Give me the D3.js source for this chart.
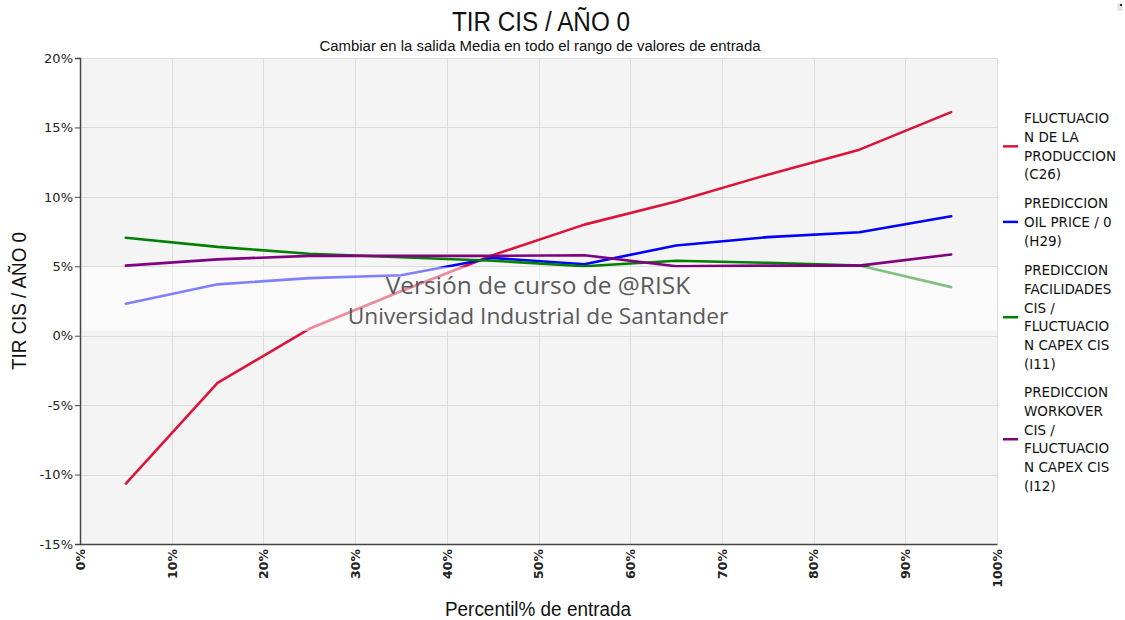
<!DOCTYPE html>
<html>
<head>
<meta charset="utf-8">
<script src="https://cdn.jsdelivr.net/npm/d3@7"></script>
<style>
  html, body { margin: 0; padding: 0; background: #fff; }
  svg { display: block; }
</style>
</head>
<body>
<svg id="chart" width="1125" height="620"></svg>
<script>
// Input percentiles (x) at which the mean output was evaluated
const percentiles = [5, 15, 25, 35, 45, 55, 65, 75, 85, 95];

// Mean TIR CIS / AÑO 0 (%) for each input, across its range
const produccion = [-10.65, -3.4, 0.5, 3.2, 5.8, 8.0, 9.66, 11.6, 13.4, 16.1];
const oilPrice   = [2.3, 3.7, 4.15, 4.35, 5.6, 5.15, 6.5, 7.1, 7.45, 8.6];
const facilidades = [7.05, 6.4, 5.9, 5.65, 5.4, 5.0, 5.4, 5.25, 5.05, 3.5];
const workover   = [5.05, 5.5, 5.75, 5.75, 5.75, 5.8, 5.0, 5.05, 5.05, 5.85];

const seriesNames = [
  ["FLUCTUACIO", "N DE LA", "PRODUCCION", "(C26)"],
  ["PREDICCION", "OIL PRICE / 0", "(H29)"],
  ["PREDICCION", "FACILIDADES", "CIS /", "FLUCTUACIO", "N CAPEX CIS", "(I11)"],
  ["PREDICCION", "WORKOVER", "CIS /", "FLUCTUACIO", "N CAPEX CIS", "(I12)"]
];
const seriesColors = ["#dc143c", "#0000ff", "#008000", "#800080"];
const seriesValues = [produccion, oilPrice, facilidades, workover];

const xTicks = [0, 10, 20, 30, 40, 50, 60, 70, 80, 90, 100];
const yTicks = [-15, -10, -5, 0, 5, 10, 15, 20];

const svg = d3.select("#chart");
const plot = { left: 80, right: 997, top: 58, bottom: 544 };

const x = d3.scaleLinear().domain([0, 100]).range([plot.left, plot.right]);
const y = d3.scaleLinear().domain([-15, 20]).range([plot.bottom, plot.top]);

const tickFont = "'DejaVu Sans', Verdana, sans-serif";
const narrowFont = "'Liberation Sans Narrow', 'Arial Narrow', 'Liberation Sans', sans-serif";

// Plot background
svg.append("rect")
  .attr("x", plot.left).attr("y", plot.top)
  .attr("width", plot.right - plot.left).attr("height", plot.bottom - plot.top)
  .attr("fill", "#f4f4f4");

// Grid
const grid = svg.append("g").attr("stroke", "#dcdcdc").attr("stroke-width", 1);
grid.selectAll("line.v").data(xTicks.slice(1)).join("line")
  .attr("x1", d => Math.round(x(d)) + 0.5).attr("x2", d => Math.round(x(d)) + 0.5)
  .attr("y1", plot.top).attr("y2", plot.bottom);
grid.selectAll("line.h").data(yTicks.slice(1)).join("line")
  .attr("y1", d => Math.round(y(d)) + 0.5).attr("y2", d => Math.round(y(d)) + 0.5)
  .attr("x1", plot.left).attr("x2", plot.right);

// Series lines
const line = d3.line()
  .x((d, i) => x(percentiles[i]))
  .y(d => y(d));

const linesG = svg.append("g").attr("fill", "none").attr("stroke-width", 2.6)
  .attr("stroke-linejoin", "round").attr("stroke-linecap", "round");
seriesValues.forEach((vals, i) => {
  linesG.append("path").datum(vals)
    .attr("d", line)
    .attr("stroke", seriesColors[i]);
});

// Watermark band and text
svg.append("rect")
  .attr("x", plot.left).attr("y", 267)
  .attr("width", plot.right - plot.left).attr("height", 64)
  .attr("fill", "#ffffff").attr("fill-opacity", 0.5);

const wm = svg.append("g").attr("fill", "#5a5a5a")
  .attr("font-family", "'Open Sans', 'Noto Sans', sans-serif")
  .attr("text-anchor", "middle");
wm.append("text").attr("x", 538).attr("y", 294).attr("font-size", 24.5)
  .text("Versión de curso de @RISK");
wm.append("text").attr("x", 538).attr("y", 324).attr("font-size", 22.7)
  .text("Universidad Industrial de Santander");

// Axes
const yAxis = d3.axisLeft(y).tickValues(yTicks).tickSize(5).tickFormat(d => d + "%");
const yg = svg.append("g").attr("transform", `translate(${plot.left},0)`).call(yAxis);
yg.select(".domain").attr("stroke", "#444").attr("stroke-width", 1.5);
yg.selectAll(".tick line").attr("stroke", "#444");
yg.selectAll(".tick text").attr("font-family", tickFont).attr("font-size", 13)
  .attr("fill", "#222").attr("x", -7);

const xAxis = d3.axisBottom(x).tickValues(xTicks).tickSize(0).tickFormat(d => d + "%");
const xg = svg.append("g").attr("transform", `translate(0,${plot.bottom})`).call(xAxis);
xg.select(".domain").attr("stroke", "#444").attr("stroke-width", 1.5);
xg.selectAll(".tick text")
  .attr("font-family", tickFont).attr("font-size", 12.5).attr("font-weight", "bold")
  .attr("fill", "#222")
  .attr("transform", "rotate(-90)")
  .attr("x", -5).attr("y", 0).attr("dy", "0.35em")
  .attr("text-anchor", "end");

// Titles (condensed to the narrow face's width)
svg.append("text").attr("x", 541).attr("y", 31).attr("text-anchor", "middle")
  .attr("font-family", narrowFont).attr("font-size", 27).attr("fill", "#111")
  .attr("textLength", 178).attr("lengthAdjust", "spacingAndGlyphs")
  .text("TIR CIS / AÑO 0");
svg.append("text").attr("x", 540).attr("y", 51).attr("text-anchor", "middle")
  .attr("font-family", narrowFont).attr("font-size", 15.5).attr("fill", "#111")
  .attr("textLength", 441).attr("lengthAdjust", "spacingAndGlyphs")
  .text("Cambiar en la salida Media en todo el rango de valores de entrada");
svg.append("text").attr("x", 538).attr("y", 616).attr("text-anchor", "middle")
  .attr("font-family", narrowFont).attr("font-size", 20).attr("fill", "#111")
  .attr("textLength", 186).attr("lengthAdjust", "spacingAndGlyphs")
  .text("Percentil% de entrada");
svg.append("text").attr("transform", "translate(26,301) rotate(-90)").attr("text-anchor", "middle")
  .attr("font-family", narrowFont).attr("font-size", 20).attr("fill", "#111")
  .attr("textLength", 138).attr("lengthAdjust", "spacingAndGlyphs")
  .text("TIR CIS / AÑO 0");

// Legend
const legendTops = [118, 203, 270, 392];
const lineH = 18.9;
const legend = svg.append("g").attr("font-family", tickFont).attr("font-size", 13.5).attr("fill", "#111");
seriesNames.forEach((lines, i) => {
  const top = legendTops[i];
  const mid = top + (lines.length - 1) * lineH / 2;
  legend.append("line")
    .attr("x1", 1003).attr("x2", 1018).attr("y1", mid).attr("y2", mid)
    .attr("stroke", seriesColors[i]).attr("stroke-width", 2.5);
  lines.forEach((t, j) => {
    legend.append("text").attr("x", 1024).attr("y", top + j * lineH)
      .attr("dy", "0.35em").text(t);
  });
});

// Small corner glyph
svg.append("rect").attr("x", 1118).attr("y", 4).attr("width", 4).attr("height", 6)
  .attr("fill", "#e8e8e8").attr("stroke", "#bbb").attr("stroke-width", 0.5);
svg.append("rect").attr("x", 1120).attr("y", 4).attr("width", 2).attr("height", 2).attr("fill", "#222");
</script>
</body>
</html>
